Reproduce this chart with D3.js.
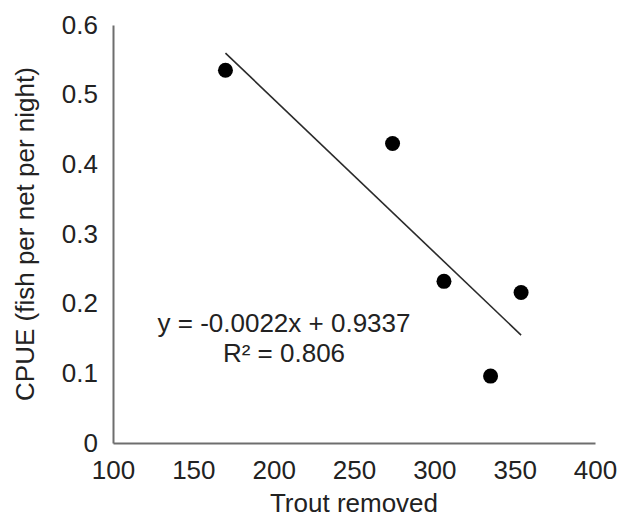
<!DOCTYPE html>
<html>
<head>
<meta charset="utf-8">
<script src="https://cdn.jsdelivr.net/npm/d3@7"></script>
<style>
  body { margin: 0; background: #fff; }
  text { font-family: "Liberation Sans", Arial, sans-serif; fill: #222; }
</style>
</head>
<body>
<div id="chart"></div>
<script>
const troutRemoved = [170, 274, 306, 354, 335];
const cpue = [0.535, 0.430, 0.232, 0.216, 0.096];
const xTicks = [100, 150, 200, 250, 300, 350, 400];
const yTicks = [0, 0.1, 0.2, 0.3, 0.4, 0.5, 0.6];
const slope = -0.0022;
const intercept = 0.9337;
const eqLines = ["y = -0.0022x + 0.9337", "R\u00b2 = 0.806"];

const W = 620, H = 519;
const MARGIN = { left: 113, right: 25, top: 25, bottom: 76 };

const svg = d3.select("#chart").append("svg")
    .attr("width", W)
    .attr("height", H);

const x = d3.scaleLinear()
    .domain([100, 400])
    .range([MARGIN.left, W - MARGIN.right]);

const y = d3.scaleLinear()
    .domain([0, 0.6])
    .range([H - MARGIN.bottom, MARGIN.top]);

// axes
const xAxis = svg.append("g")
    .attr("transform", "translate(0," + y(0) + ")")
    .call(d3.axisBottom(x).tickValues(xTicks).tickSize(0).tickPadding(18).tickFormat(d3.format("d")));

const yAxis = svg.append("g")
    .attr("transform", "translate(" + x(100) + ",0)")
    .call(d3.axisLeft(y).tickValues(yTicks).tickSize(0).tickPadding(15)
        .tickFormat(function(d) { return d === 0 ? "0" : d3.format(".1f")(d); }));

[xAxis, yAxis].forEach(function(g) {
    g.select(".domain").attr("stroke", "#6e6e6e").attr("stroke-width", 2);
    g.selectAll("text")
        .style("font-family", "'Liberation Sans', Arial, sans-serif")
        .style("font-size", "26px")
        .attr("fill", "#222");
});

// trend line
const lineX = [d3.min(troutRemoved), d3.max(troutRemoved)];
svg.append("line")
    .attr("x1", x(lineX[0]))
    .attr("y1", y(slope * lineX[0] + intercept))
    .attr("x2", x(lineX[1]))
    .attr("y2", y(slope * lineX[1] + intercept))
    .attr("stroke", "#2a2a2a")
    .attr("stroke-width", 1.6);

// points
svg.selectAll(".dot")
    .data(troutRemoved)
    .enter().append("circle")
    .attr("class", "dot")
    .attr("cx", function(d) { return x(d); })
    .attr("cy", function(d, i) { return y(cpue[i]); })
    .attr("r", 7.5)
    .attr("fill", "#000");

// equation
svg.selectAll(".eq")
    .data(eqLines)
    .enter().append("text")
    .attr("class", "eq")
    .attr("x", 284)
    .attr("y", function(d, i) { return 332 + i * 30; })
    .attr("text-anchor", "middle")
    .style("font-size", "26px")
    .text(function(d) { return d; });

// axis titles
svg.append("text")
    .attr("x", (x(100) + x(400)) / 2)
    .attr("y", 512)
    .attr("text-anchor", "middle")
    .style("font-size", "26px")
    .text("Trout removed");

svg.append("text")
    .attr("transform", "translate(34," + ((y(0) + y(0.6)) / 2) + ") rotate(-90)")
    .attr("text-anchor", "middle")
    .style("font-size", "26px")
    .text("CPUE (fish per net per night)");
</script>
</body>
</html>
